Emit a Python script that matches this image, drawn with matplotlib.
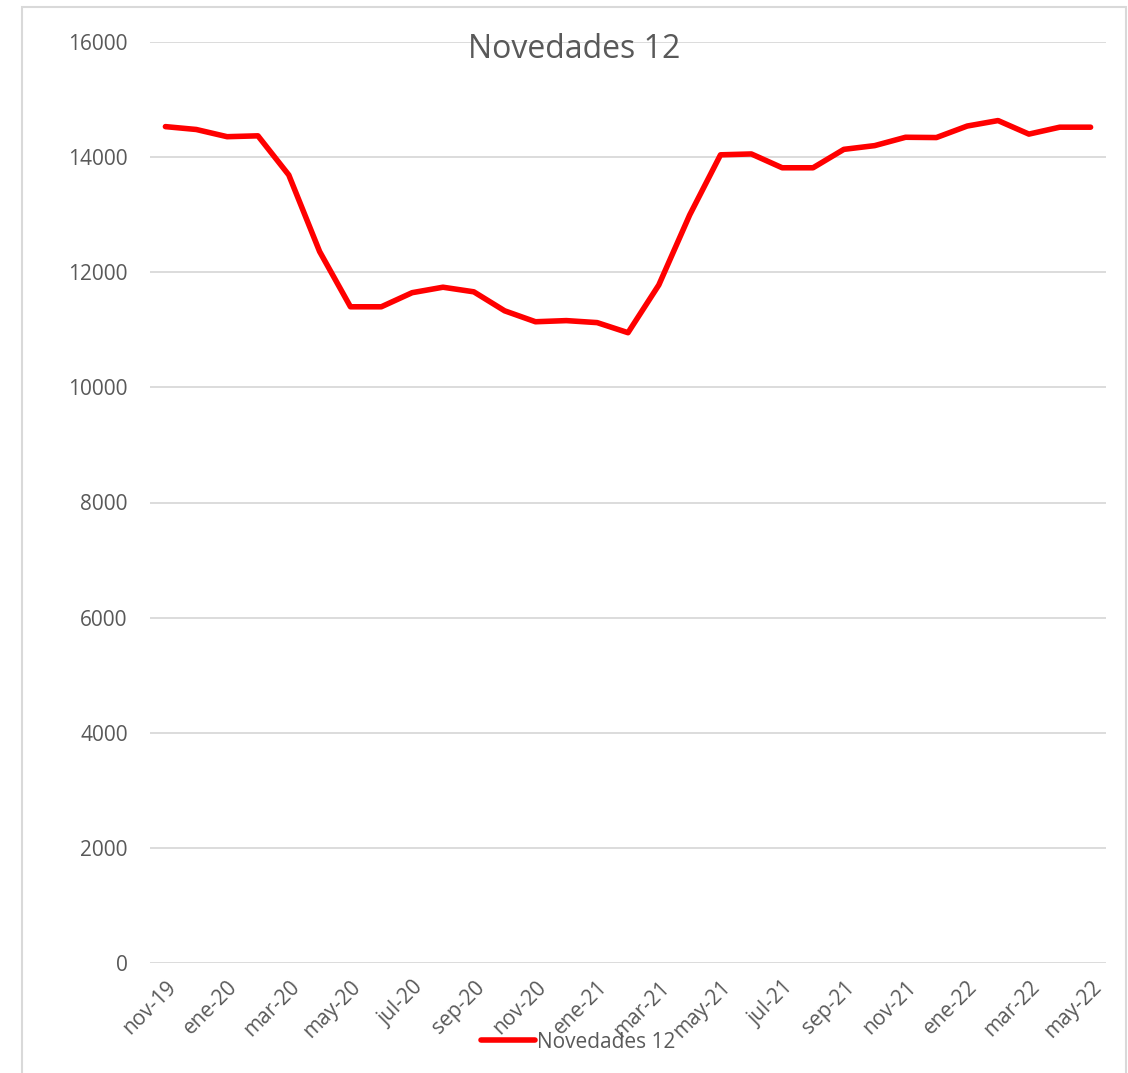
import matplotlib.pyplot as plt
from matplotlib.patches import Rectangle

months = ["nov-19", "dic-19", "ene-20", "feb-20", "mar-20", "abr-20", "may-20", "jun-20",
          "jul-20", "ago-20", "sep-20", "oct-20", "nov-20", "dic-20", "ene-21", "feb-21",
          "mar-21", "abr-21", "may-21", "jun-21", "jul-21", "ago-21", "sep-21", "oct-21",
          "nov-21", "dic-21", "ene-22", "feb-22", "mar-22", "abr-22", "may-22"]
novedades = [14530, 14480, 14355, 14370, 13690, 12360, 11400, 11400,
             11645, 11740, 11660, 11330, 11140, 11160, 11125, 10950,
             11780, 12995, 14040, 14055, 13815, 13815, 14135, 14200,
             14345, 14340, 14540, 14635, 14400, 14520, 14520]
yticks = [0, 2000, 4000, 6000, 8000, 10000, 12000, 14000, 16000]

plt.rcParams['font.family'] = ['Open Sans', 'DejaVu Sans']
txt = '#595959'
grid = '#D9D9D9'

fig = plt.figure(figsize=(11.28, 10.73), dpi=100)
ax = fig.add_axes([150 / 1128, 1 - 963 / 1073, 956 / 1128, 921 / 1073])

x = list(range(len(months)))
ax.plot(x, novedades, color='#FF0000', lw=4.0, solid_capstyle='round',
        solid_joinstyle='round', label='Novedades 12')

ax.set_xlim(-0.5, len(months) - 0.5)
ax.set_ylim(0, 16000)
ax.set_yticks(yticks)
ax.set_yticklabels([str(v) for v in yticks])
ax.yaxis.grid(True, color=grid, lw=1.3)
ax.set_axisbelow(True)

ax.set_xticks(x[::2])
ax.set_xticklabels(months[::2], rotation=45, ha='right', rotation_mode='anchor')

for s in ['left', 'right', 'top', 'bottom']:
    ax.spines[s].set_visible(False)
ax.tick_params(axis='both', length=0, colors=txt, labelsize=15)
ax.tick_params(axis='y', pad=16)
ax.tick_params(axis='x', pad=10)

fig.text(574 / 1128, 1 - 50 / 1073, 'Novedades 12', ha='center', va='center',
         fontsize=23, color=txt)

fig.legend(loc='center', bbox_to_anchor=(578 / 1128, 1 - 1042 / 1073), frameon=False,
           fontsize=15, labelcolor=txt, handlelength=2.6, handletextpad=0.1)

fig.patches.append(Rectangle((22 / 1128, -0.01), 1104 / 1128, 1 - 7 / 1073 + 0.01,
                             transform=fig.transFigure, fill=False,
                             edgecolor=grid, lw=1.5))

fig.savefig('out.png', dpi=100, facecolor='white')
